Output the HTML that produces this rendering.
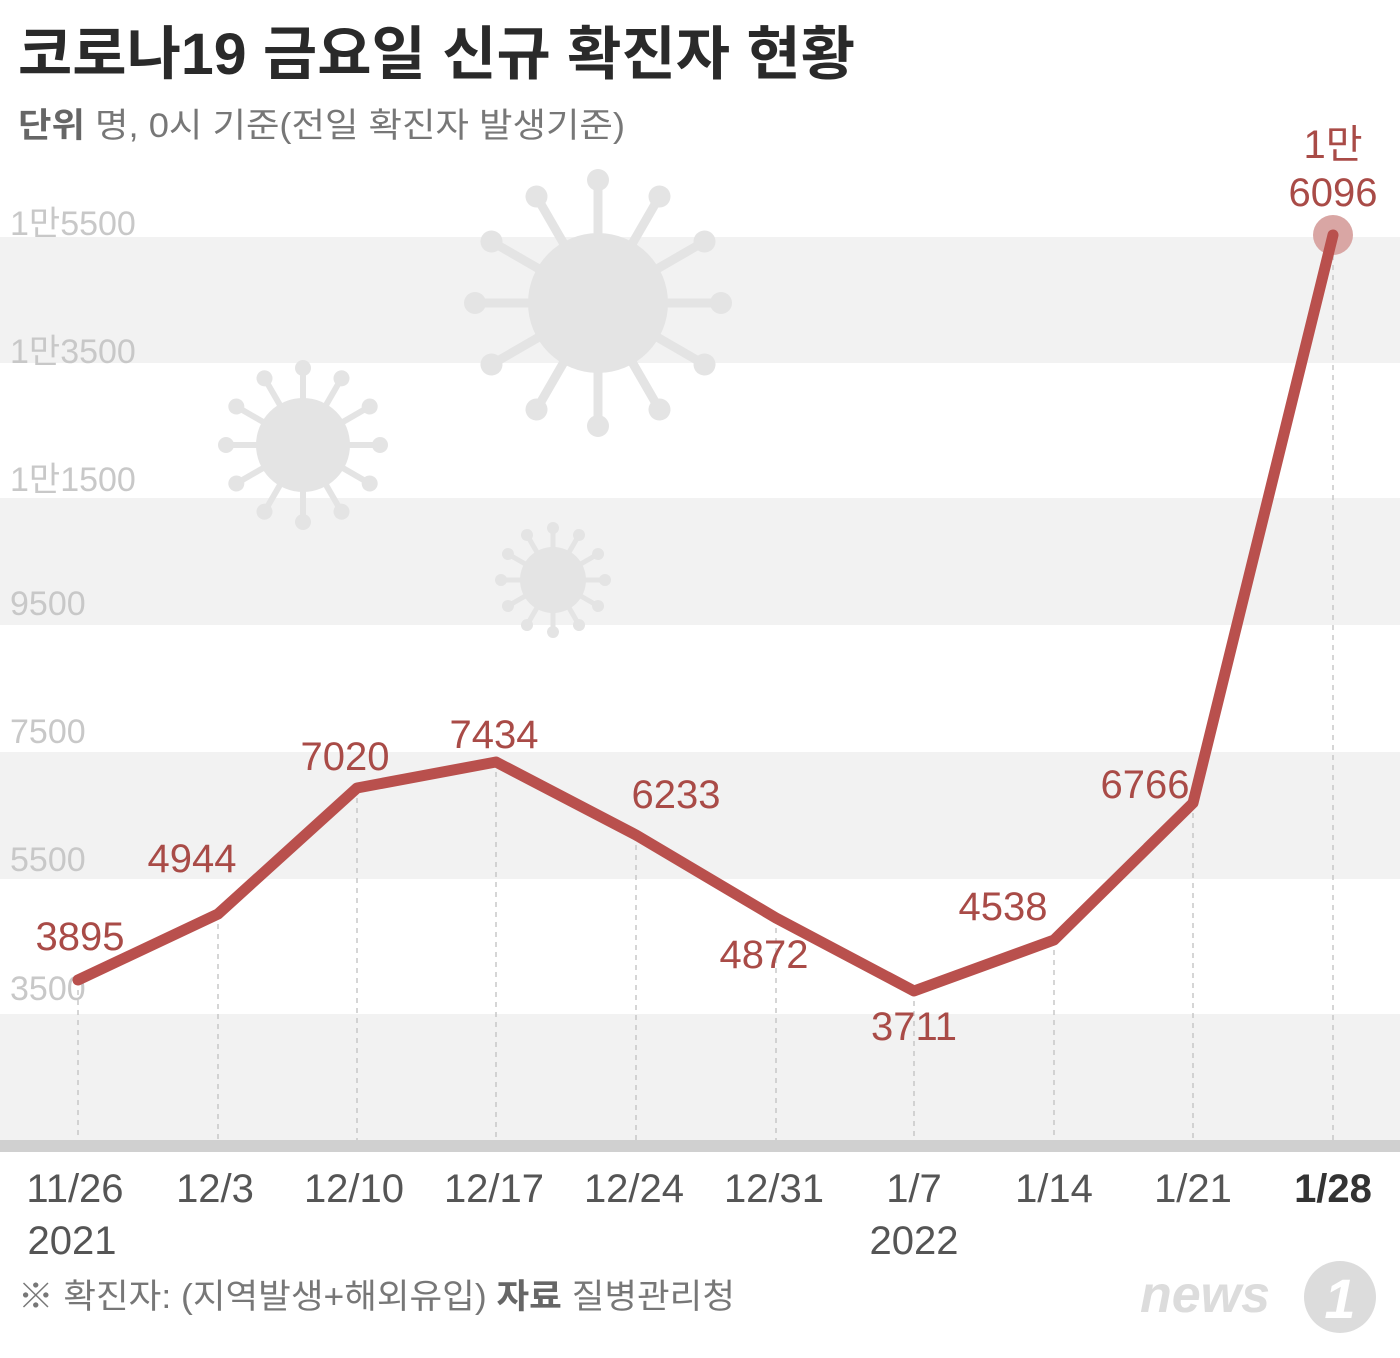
<!DOCTYPE html>
<html><head><meta charset="utf-8"><style>
body{margin:0;width:1400px;height:1353px;background:#fff;overflow:hidden;font-family:"Liberation Sans","Noto Sans CJK KR",sans-serif}
</style></head><body>
<svg width="1400" height="1353" xmlns="http://www.w3.org/2000/svg" font-family="Liberation Sans, Noto Sans CJK KR, sans-serif">
<rect x="0" y="237" width="1400" height="126" fill="#f2f2f2"/>
<rect x="0" y="498" width="1400" height="127" fill="#f2f2f2"/>
<rect x="0" y="752" width="1400" height="127" fill="#f2f2f2"/>
<rect x="0" y="1014" width="1400" height="127" fill="#f2f2f2"/>
<rect x="0" y="1140" width="1400" height="12" fill="#d0d0d0"/>
<g fill="#e4e4e4" stroke="#e4e4e4" stroke-width="9" stroke-linecap="round">
<circle cx="598" cy="303" r="70" stroke="none"/>
<g id="sp1"><line x1="598" y1="303" x2="598" y2="190"/><circle cx="598" cy="180" r="11" stroke="none"/></g>
<use href="#sp1" transform="rotate(30 598 303)"/><use href="#sp1" transform="rotate(60 598 303)"/><use href="#sp1" transform="rotate(90 598 303)"/><use href="#sp1" transform="rotate(120 598 303)"/><use href="#sp1" transform="rotate(150 598 303)"/><use href="#sp1" transform="rotate(180 598 303)"/><use href="#sp1" transform="rotate(210 598 303)"/><use href="#sp1" transform="rotate(240 598 303)"/><use href="#sp1" transform="rotate(270 598 303)"/><use href="#sp1" transform="rotate(300 598 303)"/><use href="#sp1" transform="rotate(330 598 303)"/>
<circle cx="303" cy="445" r="47" stroke="none"/>
<g id="sp2" stroke-width="6"><line x1="303" y1="445" x2="303" y2="370"/><circle cx="303" cy="368" r="8" stroke="none"/></g>
<use href="#sp2" transform="rotate(30 303 445)"/><use href="#sp2" transform="rotate(60 303 445)"/><use href="#sp2" transform="rotate(90 303 445)"/><use href="#sp2" transform="rotate(120 303 445)"/><use href="#sp2" transform="rotate(150 303 445)"/><use href="#sp2" transform="rotate(180 303 445)"/><use href="#sp2" transform="rotate(210 303 445)"/><use href="#sp2" transform="rotate(240 303 445)"/><use href="#sp2" transform="rotate(270 303 445)"/><use href="#sp2" transform="rotate(300 303 445)"/><use href="#sp2" transform="rotate(330 303 445)"/>
<circle cx="553" cy="580" r="33" stroke="none"/>
<g id="sp3" stroke-width="5"><line x1="553" y1="580" x2="553" y2="530"/><circle cx="553" cy="528" r="6" stroke="none"/></g>
<use href="#sp3" transform="rotate(30 553 580)"/><use href="#sp3" transform="rotate(60 553 580)"/><use href="#sp3" transform="rotate(90 553 580)"/><use href="#sp3" transform="rotate(120 553 580)"/><use href="#sp3" transform="rotate(150 553 580)"/><use href="#sp3" transform="rotate(180 553 580)"/><use href="#sp3" transform="rotate(210 553 580)"/><use href="#sp3" transform="rotate(240 553 580)"/><use href="#sp3" transform="rotate(270 553 580)"/><use href="#sp3" transform="rotate(300 553 580)"/><use href="#sp3" transform="rotate(330 553 580)"/>
</g>
<g font-size="34" fill="#c8c8c8">
<text x="10" y="235">1만5500</text><text x="10" y="363">1만3500</text><text x="10" y="491">1만1500</text>
<text x="10" y="615">9500</text><text x="10" y="743">7500</text><text x="10" y="871">5500</text><text x="10" y="1000">3500</text>
</g>
<g stroke="#c8c8c8" stroke-width="1.5" stroke-dasharray="5,5">
<line x1="78" y1="980" x2="78" y2="1140"/><line x1="218" y1="914" x2="218" y2="1140"/><line x1="357" y1="788" x2="357" y2="1140"/><line x1="496" y1="762" x2="496" y2="1140"/><line x1="636" y1="835" x2="636" y2="1140"/><line x1="776" y1="918" x2="776" y2="1140"/><line x1="914" y1="991" x2="914" y2="1140"/><line x1="1054" y1="940" x2="1054" y2="1140"/><line x1="1193" y1="803" x2="1193" y2="1140"/><line x1="1333" y1="235" x2="1333" y2="1140"/>
</g>
<circle cx="1333" cy="235" r="20" fill="#d9a6a4"/>
<polyline points="78,980 218,914 357,788 496,762 636,835 776,918 914,991 1054,940 1193,803 1333,235" fill="none" stroke="#b9504d" stroke-width="11" stroke-linejoin="round" stroke-linecap="round"/>
<g font-size="40" fill="#a94b47" text-anchor="middle">
<text x="80" y="950">3895</text><text x="192" y="872">4944</text><text x="345" y="770">7020</text><text x="494" y="748">7434</text><text x="676" y="808">6233</text><text x="764" y="968">4872</text><text x="914" y="1040">3711</text><text x="1003" y="920">4538</text><text x="1145" y="798">6766</text>
<text x="1333" y="158">1만</text><text x="1333" y="206">6096</text>
</g>
<g font-size="40" fill="#555" text-anchor="middle">
<text x="75" y="1202">11/26</text><text x="215" y="1202">12/3</text><text x="354" y="1202">12/10</text><text x="494" y="1202">12/17</text><text x="634" y="1202">12/24</text><text x="774" y="1202">12/31</text><text x="914" y="1202">1/7</text><text x="1054" y="1202">1/14</text><text x="1193" y="1202">1/21</text><text x="1333" y="1202" font-weight="bold" fill="#333">1/28</text>
<text x="72" y="1254">2021</text><text x="914" y="1254">2022</text>
</g>
<text x="18" y="74" font-size="58" font-weight="bold" fill="#2a2a2a" textLength="837" lengthAdjust="spacingAndGlyphs">코로나19 금요일 신규 확진자 현황</text>
<text x="18" y="137" font-size="34" fill="#777" textLength="607" lengthAdjust="spacingAndGlyphs"><tspan font-weight="bold" fill="#666">단위</tspan>  명, 0시 기준(전일 확진자 발생기준)</text>
<text x="18" y="1308" font-size="34" fill="#777" textLength="717" lengthAdjust="spacingAndGlyphs">※ 확진자: (지역발생+해외유입)  <tspan font-weight="bold" fill="#666">자료</tspan>  질병관리청</text>
<text x="1140" y="1312" font-size="52" font-weight="bold" font-style="italic" fill="#dcdcdc">news</text>
<circle cx="1340" cy="1297" r="36" fill="#dcdcdc"/>
<text x="1340" y="1318" font-size="56" font-weight="bold" font-style="italic" fill="#fff" text-anchor="middle">1</text>
</svg>
</body></html>
